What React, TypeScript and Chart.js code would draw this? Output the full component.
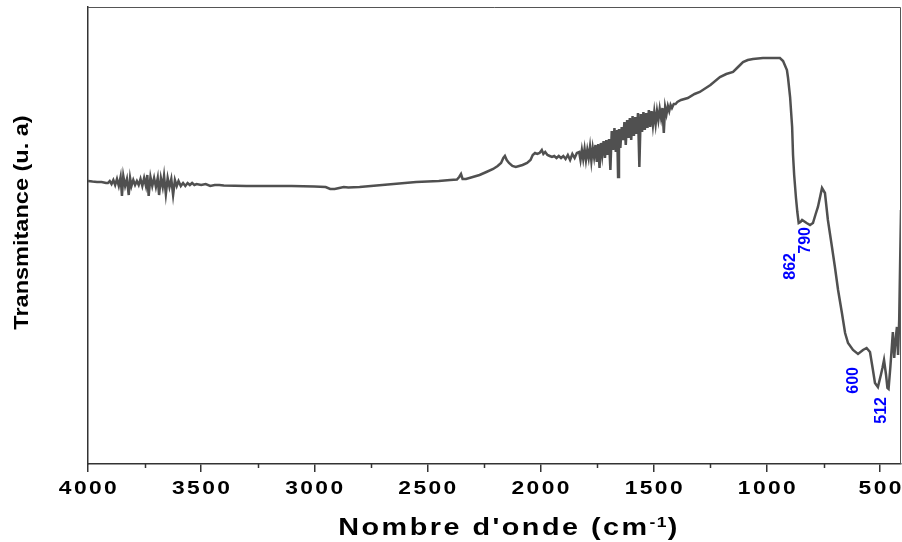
import React, { useEffect, useRef } from 'react';
import { Chart, registerables } from 'chart.js';

Chart.register(...registerables);

// Wavenumber (cm-1)
const wavenumbers: number[] = [
  4000, 3980, 3960, 3940, 3920, 3912, 3904, 3896, 3888, 3880,
  3872, 3864, 3856, 3850, 3844, 3836, 3828, 3820, 3814, 3808,
  3800, 3792, 3784, 3776, 3768, 3760, 3752, 3744, 3738, 3732,
  3724, 3716, 3708, 3700, 3692, 3686, 3678, 3670, 3664, 3656,
  3648, 3640, 3632, 3624, 3616, 3608, 3600, 3590, 3580, 3570,
  3560, 3550, 3540, 3530, 3520, 3500, 3480, 3460, 3440, 3420,
  3400, 3300, 3200, 3100, 3000, 2950, 2930, 2910, 2890, 2870,
  2850, 2800, 2750, 2700, 2650, 2600, 2550, 2500, 2450, 2400,
  2370, 2360, 2352, 2345, 2330, 2300, 2270, 2240, 2210, 2190,
  2175, 2165, 2158, 2150, 2140, 2125, 2110, 2095, 2080, 2060,
  2045, 2035, 2025, 2015, 2005, 1995, 1988, 1980, 1970, 1960,
  1950, 1940, 1930, 1920, 1910, 1900, 1890, 1880, 1870, 1860,
  1850, 1840, 1830, 1824, 1818, 1812, 1806, 1800, 1794, 1788,
  1782, 1776, 1770, 1764, 1758, 1752, 1746, 1740, 1734, 1728,
  1722, 1716, 1710, 1704, 1698, 1692, 1686, 1680, 1674, 1668,
  1662, 1658, 1654, 1648, 1642, 1636, 1630, 1624, 1618, 1612,
  1606, 1600, 1594, 1588, 1582, 1576, 1570, 1564, 1558, 1552,
  1546, 1540, 1534, 1528, 1522, 1516, 1510, 1504, 1498, 1492,
  1486, 1480, 1474, 1468, 1462, 1456, 1450, 1444, 1438, 1432,
  1426, 1420, 1412, 1404, 1396, 1380, 1350, 1320, 1297, 1250,
  1208, 1180, 1150, 1128, 1106, 1085, 1062, 1018, 980, 943,
  929, 912, 907, 898, 889, 885, 880, 872, 866, 860,
  852, 845, 825, 810, 797, 785, 775, 757, 744, 731,
  713, 700, 686, 669, 655, 642, 620, 598, 576, 560,
  545, 532, 523, 510, 497, 490, 483, 474, 468, 463,
  455, 448, 444, 438, 432, 426, 421, 416, 412, 408,
];

// Transmittance (arbitrary units)
const transmittance: number[] = [
  70.75, 70.6, 70.5, 70.5, 70.25, 70.25, 70.75, 70.0, 71.0, 69.75,
  71.25, 69.5, 71.75, 67.0, 72.0, 69.5, 71.25, 67.25, 71.5, 69.5,
  71.0, 69.75, 70.75, 69.75, 71.25, 69.5, 71.5, 69.5, 72.25, 67.0,
  71.75, 69.5, 71.5, 69.25, 71.5, 67.25, 71.5, 69.25, 72.0, 67.5,
  71.5, 69.25, 71.25, 67.25, 71.0, 69.5, 70.75, 69.5, 70.25, 69.5,
  70.25, 69.75, 70.25, 69.75, 70.0, 69.75, 70.0, 69.5, 69.75, 69.75,
  69.6, 69.5, 69.5, 69.5, 69.4, 69.25, 68.75, 68.75, 69.0, 69.25,
  69.1, 69.25, 69.5, 69.75, 70.0, 70.25, 70.5, 70.6, 70.75, 71.0,
  71.1, 71.75, 72.5, 71.25, 71.25, 71.75, 72.25, 73.0, 73.75, 74.5,
  75.25, 76.5, 77.0, 76.0, 75.25, 74.5, 74.25, 74.5, 74.75, 75.25,
  76.0, 77.25, 77.75, 77.5, 77.75, 78.5, 77.5, 78.0, 77.25, 77.0,
  76.75, 77.0, 76.5, 77.0, 76.5, 77.0, 76.25, 77.25, 76.0, 77.5,
  76.5, 77.75, 78.0, 76.0, 78.5, 76.25, 78.75, 76.0, 78.5, 76.5,
  79.25, 75.75, 79.0, 76.75, 79.75, 75.5, 80.0, 74.0, 80.25, 77.25,
  80.75, 76.5, 81.0, 77.25, 81.25, 73.5, 83.25, 78.5, 84.0, 78.0,
  83.5, 71.75, 83.75, 79.0, 84.25, 81.0, 85.5, 79.75, 86.0, 81.5,
  86.5, 81.0, 87.0, 82.0, 86.75, 82.5, 87.75, 74.25, 87.5, 83.0,
  88.0, 83.5, 87.75, 84.0, 88.5, 84.25, 88.25, 84.75, 88.0, 85.0,
  88.25, 86.0, 88.75, 86.5, 89.0, 82.75, 89.25, 87.5, 89.5, 88.25,
  89.75, 89.0, 90.0, 90.0, 90.5, 91.0, 91.5, 92.5, 93.0, 94.75,
  96.75, 97.5, 98.0, 99.25, 100.5, 101.0, 101.25, 101.5, 101.5, 101.5,
  100.75, 98.5, 96.5, 91.75, 84.25, 77.25, 72.25, 66.5, 63.0, 60.25,
  60.5, 61.0, 60.25, 59.75, 60.25, 62.5, 64.25, 69.0, 67.75, 61.0,
  54.25, 49.25, 43.5, 37.75, 32.75, 30.25, 28.5, 27.5, 28.5, 29.0,
  28.0, 23.5, 20.25, 19.25, 22.25, 24.0, 26.0, 22.25, 19.0, 18.75,
  24.25, 29.75, 33.0, 26.5, 31.0, 34.25, 27.25, 36.0, 49.75, 63.5,
];

const majorTicks: number[] = [4000, 3500, 3000, 2500, 2000, 1500, 1000, 500];
const minorTicks: number[] = [3750, 3250, 2750, 2250, 1750, 1250, 750];

const peakLabels: string[] = ['862', '790', '600', '512'];
const peakLabelWn: number[] = [894, 830, 616, 492];
const peakLabelT: number[] = [49.4, 55.9, 20.9, 13.4];

const xTitleMain = "Nombre d'onde (cm";
const xTitleSup = '-1';
const xTitleEnd = ')';
const yTitle = 'Transmitance (u. a)';

const FAMILY = '"Liberation Sans", Arial, Helvetica, sans-serif';

type TextOpts = {
  font: string;
  color: string;
  sx?: number;
  rot?: number;
  align?: CanvasTextAlign;
  baseline?: CanvasTextBaseline;
  ls?: string;
};

function drawText(ctx: any, text: string, x: number, y: number, o: TextOpts) {
  ctx.save();
  ctx.translate(x, y);
  if (o.rot) ctx.rotate(o.rot);
  ctx.scale(o.sx ?? 1, 1);
  ctx.font = o.font;
  ctx.fillStyle = o.color;
  ctx.textAlign = o.align ?? 'center';
  ctx.textBaseline = o.baseline ?? 'alphabetic';
  ctx.letterSpacing = o.ls ?? '0px';
  ctx.fillText(text, 0, 0);
  ctx.restore();
}

function measure(ctx: any, text: string, font: string, ls: string) {
  ctx.save();
  ctx.font = font;
  ctx.letterSpacing = ls;
  const w = ctx.measureText(text).width;
  ctx.restore();
  return w;
}

export default function App() {
  const ref = useRef<HTMLCanvasElement>(null);

  useEffect(() => {
    const canvas = ref.current;
    if (!canvas) return;

    const decoPlugin = {
      id: 'deco',
      afterDraw(chart: any) {
        const { ctx, chartArea: a, scales } = chart;
        const xs = scales.x;
        const ys = scales.y;
        ctx.save();
        // top and right frame
        ctx.strokeStyle = '#555555';
        ctx.lineWidth = 1;
        ctx.beginPath();
        ctx.moveTo(a.left, a.top + 0.5);
        ctx.lineTo(a.right - 0.5, a.top + 0.5);
        ctx.lineTo(a.right - 0.5, a.bottom);
        ctx.stroke();
        // minor ticks
        ctx.strokeStyle = '#333333';
        ctx.lineWidth = 1.5;
        minorTicks.forEach((v) => {
          const px = Math.round(xs.getPixelForValue(v)) + 0.5;
          ctx.beginPath();
          ctx.moveTo(px, a.bottom);
          ctx.lineTo(px, a.bottom + 4);
          ctx.stroke();
        });
        ctx.restore();

        // tick labels
        const tickFont = `bold 19px ${FAMILY}`;
        majorTicks.forEach((v) => {
          drawText(ctx, String(v), xs.getPixelForValue(v) + 1, a.bottom + 30, {
            font: tickFont, color: '#000000', sx: 1.2, ls: '2px',
          });
        });

        // x title
        const tFont = `bold 23px ${FAMILY}`;
        const sFont = `bold 14px ${FAMILY}`;
        const sx = 1.25;
        const w1 = measure(ctx, xTitleMain, tFont, '2px') * sx;
        const w2 = measure(ctx, xTitleSup, sFont, '1px') * sx;
        const w3 = measure(ctx, xTitleEnd, tFont, '2px') * sx;
        const cx = 509;
        let start = cx - (w1 + w2 + w3) / 2;
        const base = 535;
        drawText(ctx, xTitleMain, start, base, { font: tFont, color: '#000', sx, align: 'left', ls: '2px' });
        start += w1;
        drawText(ctx, xTitleSup, start, base - 8, { font: sFont, color: '#000', sx, align: 'left', ls: '1px' });
        start += w2;
        drawText(ctx, xTitleEnd, start, base, { font: tFont, color: '#000', sx, align: 'left', ls: '2px' });

        // y title
        drawText(ctx, yTitle, 28, 222.5, {
          font: `bold 21px ${FAMILY}`, color: '#000', sx: 1.12, rot: -Math.PI / 2,
        });

        // peak labels
        peakLabels.forEach((t, i) => {
          drawText(ctx, t, xs.getPixelForValue(peakLabelWn[i]), ys.getPixelForValue(peakLabelT[i]), {
            font: `bold 16px ${FAMILY}`, color: '#0000ff', rot: -Math.PI / 2, baseline: 'middle',
          });
        });
      },
    };

    const chart = new Chart(canvas, {
      type: 'line',
      data: {
        datasets: [
          {
            data: wavenumbers.map((w, i) => ({ x: w, y: transmittance[i] })),
            borderColor: '#505050',
            borderWidth: 2.5,
            pointRadius: 0,
            tension: 0,
            fill: false,
          },
        ],
      },
      options: {
        responsive: false,
        animation: false,
        events: [],
        layout: { padding: { top: 7, right: 1, left: 0, bottom: 0 } },
        plugins: { legend: { display: false }, tooltip: { enabled: false } },
        scales: {
          x: {
            type: 'linear',
            reverse: true,
            min: 408,
            max: 4000,
            afterBuildTicks: (s: any) => {
              s.ticks = majorTicks.map((v) => ({ value: v }));
            },
            afterFit: (s: any) => {
              s.height = 78;
            },
            ticks: { display: false },
            grid: {
              display: true,
              drawOnChartArea: false,
              drawTicks: true,
              tickLength: 8,
              color: '#333333',
              lineWidth: 1.5,
            },
            border: { display: true, color: '#333333', width: 1.5 },
          },
          y: {
            type: 'linear',
            min: 0,
            max: 114.25,
            afterFit: (s: any) => {
              s.width = 88;
            },
            ticks: { display: false },
            grid: { display: false },
            border: { display: true, color: '#333333', width: 1.5 },
          },
        },
      },
      plugins: [decoPlugin],
    } as any);

    return () => chart.destroy();
  }, []);

  return (
    <div style={{ position: 'fixed', left: 0, top: 0, width: 902, height: 542, background: '#ffffff' }}>
      <canvas ref={ref} width={902} height={542} style={{ display: 'block' }} />
    </div>
  );
}
